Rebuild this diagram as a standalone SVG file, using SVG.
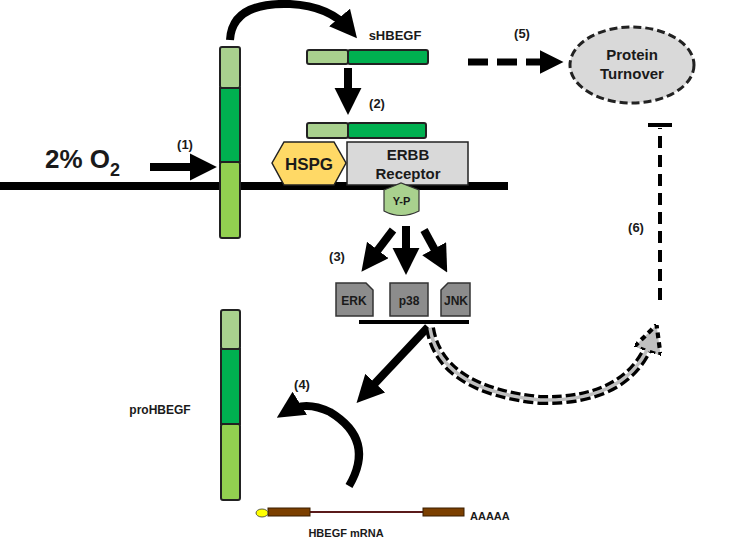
<svg xmlns="http://www.w3.org/2000/svg" width="742" height="540" viewBox="0 0 742 540">
<style>
text{font-family:"Liberation Sans",Arial,sans-serif;font-weight:bold;fill:#1a1a1a}
.l{fill:#a9d18e;stroke:#222;stroke-width:2}
.d{fill:#00b050;stroke:#222;stroke-width:2}
.m{fill:#92d050;stroke:#222;stroke-width:2}
.k{fill:#8c8c8c;stroke:#333;stroke-width:1.5}
.a{stroke:#000;stroke-width:8;fill:none}
</style>
<defs>
<marker id="ah" viewBox="0 0 10 10" refX="6" refY="5" markerWidth="3.4" markerHeight="3.4" orient="auto" markerUnits="strokeWidth"><path d="M0,0L10,5L0,10Z" fill="#000"/></marker>
<marker id="ahg" viewBox="0 0 10 10" refX="5" refY="5" markerWidth="2.8" markerHeight="2.8" orient="auto" markerUnits="strokeWidth"><path d="M0,0L10,5L0,10Z" fill="#bfbfbf" stroke="#000" stroke-width="1.5" stroke-dasharray="2,1.5"/></marker>
</defs>
<rect width="742" height="540" fill="#fff"/>
<g id="membrane"><line x1="0" y1="186" x2="508" y2="186" stroke="#000" stroke-width="8"/></g>
<g id="membraneHBEGF">
<rect class="l" x="220" y="47" width="20" height="41" rx="2"/>
<rect class="d" x="220" y="88" width="20" height="74"/>
<rect class="m" x="220" y="162" width="20" height="76" rx="2"/>
</g>
<g id="o2"><text x="45" y="168" font-size="26">2% O<tspan font-size="18" dy="8">2</tspan></text></g>
<g id="sHBEGF">
<text x="395" y="40" font-size="13" text-anchor="middle">sHBEGF</text>
<rect class="l" x="307" y="50" width="41" height="14" rx="2"/>
<rect class="d" x="348" y="50" width="80" height="14" rx="2"/>
</g>
<g id="bound">
<rect class="l" x="307" y="123" width="41" height="15" rx="2"/>
<rect class="d" x="348" y="123" width="78" height="15" rx="2"/>
</g>
<g id="hspg"><polygon points="272,163 284,142 334,142 346,163 334,185 284,185" fill="#ffd966" stroke="#222" stroke-width="1.5"/><text x="309" y="170" font-size="17" text-anchor="middle">HSPG</text></g>
<g id="erbb"><rect x="347" y="142" width="121" height="43" fill="#d9d9d9" stroke="#222" stroke-width="1.5"/><text x="408" y="160" font-size="15" text-anchor="middle">ERBB</text><text x="408" y="179" font-size="15" text-anchor="middle">Receptor</text></g>
<g id="yp"><path d="M384,190 L401,183 L419,190 L419,211 Q401,220 384,211 Z" fill="#a9d18e" stroke="#333" stroke-width="1.2"/><text x="401.5" y="205" font-size="11" text-anchor="middle">Y-P</text></g>
<g id="erk"><path class="k" d="M336,283 H366 L373,290 V316 H336 Z"/><text x="354" y="305" font-size="12" text-anchor="middle">ERK</text></g>
<g id="p38"><path class="k" d="M390,283 H428 V316 H390 V290 Z"/><text x="409" y="305" font-size="12" text-anchor="middle">p38</text></g>
<g id="jnk"><path class="k" d="M441,290 L448,283 H470 V316 H441 Z"/><text x="456" y="305" font-size="12" text-anchor="middle">JNK</text></g>
<g id="turnover"><ellipse cx="632" cy="65" rx="62" ry="38" fill="#d9d9d9" stroke="#222" stroke-width="3" stroke-dasharray="8,4"/><text x="632" y="60" font-size="15" text-anchor="middle">Protein</text><text x="632" y="79" font-size="15" text-anchor="middle">Turnover</text></g>
<g id="proHBEGF">
<text x="160" y="414" font-size="12" text-anchor="middle">proHBEGF</text>
<rect class="l" x="221" y="310" width="19" height="39" rx="2"/>
<rect class="d" x="221" y="349" width="19" height="75"/>
<rect class="m" x="221" y="424" width="19" height="76" rx="2"/>
</g>
<g id="mrna">
<line x1="309" y1="512" x2="424" y2="512" stroke="#5a1a1a" stroke-width="2"/>
<rect x="268" y="508" width="42" height="8" fill="#7b3f00" stroke="#3a1e00"/>
<rect x="423" y="508" width="41" height="8" fill="#7b3f00" stroke="#3a1e00"/>
<ellipse cx="262" cy="513" rx="6" ry="4" fill="#ffff00" stroke="#333" stroke-width="0.8"/>
<text x="470" y="520" font-size="11">AAAAA</text>
<text x="346" y="537" font-size="11" text-anchor="middle">HBEGF mRNA</text>
</g>
<g id="connectors">
<path d="M230,40 Q232,2 290,4 Q330,6 350,30" class="a" marker-end="url(#ah)"/>
<line x1="150" y1="167" x2="206" y2="167" class="a" marker-end="url(#ah)"/>
<line x1="348" y1="68" x2="348" y2="104" class="a" marker-end="url(#ah)"/>
<line x1="393" y1="230" x2="368" y2="263" class="a" marker-end="url(#ah)"/>
<line x1="406" y1="226" x2="406" y2="264" class="a" marker-end="url(#ah)"/>
<line x1="424" y1="230" x2="442" y2="263" class="a" marker-end="url(#ah)"/>
<line x1="359" y1="322" x2="469" y2="322" stroke="#000" stroke-width="4"/>
<line x1="428" y1="327" x2="364" y2="395" class="a" marker-end="url(#ah)"/>
<path d="M349,486 Q376,440 330,412 Q305,400 286,412" class="a" stroke-width="10" marker-end="url(#ah)"/>
<path d="M430,328 Q440,390 540,400 Q630,402 652,338" fill="none" stroke="#000" stroke-width="10" stroke-dasharray="10,4" marker-end="url(#ahg)"/>
<path d="M430,328 Q440,390 540,400 Q630,402 652,338" fill="none" stroke="#bfbfbf" stroke-width="3.5"/>
<line x1="468" y1="62" x2="554" y2="62" stroke="#000" stroke-width="7" stroke-dasharray="20,9" marker-end="url(#ah)"/>
<line x1="660" y1="300" x2="660" y2="128" stroke="#000" stroke-width="4" stroke-dasharray="12,7"/>
<line x1="648" y1="125" x2="672" y2="125" stroke="#000" stroke-width="4"/>
</g>
<g id="labels">
<text x="185" y="149" font-size="13" text-anchor="middle">(1)</text>
<text x="377" y="108" font-size="13" text-anchor="middle">(2)</text>
<text x="337" y="261" font-size="13" text-anchor="middle">(3)</text>
<text x="302" y="389" font-size="13" text-anchor="middle">(4)</text>
<text x="522" y="38" font-size="13" text-anchor="middle">(5)</text>
<text x="636" y="232" font-size="13" text-anchor="middle">(6)</text>
</g>
</svg>
